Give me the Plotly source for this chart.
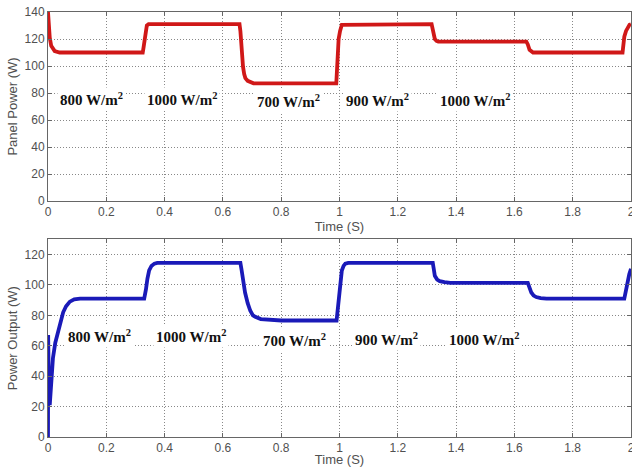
import plotly.graph_objects as go

# ---- data ----
t_panel = [0, 0.003, 0.006, 0.011, 0.023, 0.04, 0.325, 0.328, 0.331, 0.335, 0.339, 0.345,
           0.657, 0.660, 0.662, 0.666, 0.669, 0.673, 0.677, 0.685, 0.694, 0.705,
           0.989, 0.991, 0.994, 0.997, 1.002, 1.008, 1.316, 1.319, 1.322, 1.327, 1.333, 1.339,
           1.641, 1.646, 1.652, 1.658, 1.664, 1.971, 1.974, 1.977, 1.983, 1.989, 1.995, 2.0]
p_panel = [140, 128, 121, 115, 111, 110, 110, 114, 120, 126, 130, 131,
           131, 126, 117, 107, 99.5, 94, 91, 89, 88, 87.2,
           87.2, 100, 112, 120, 126, 130.5, 131, 127, 124, 120, 118.5, 118,
           118, 116, 112, 110.5, 110, 110, 115, 121.7, 126, 129, 130.5, 131]

t_out = [0, 0.0005, 0.002, 0.006, 0.011, 0.017, 0.025, 0.035, 0.045, 0.052, 0.062, 0.075, 0.09, 0.11,
         0.33, 0.333, 0.336, 0.341, 0.347, 0.355, 0.365, 0.375,
         0.66, 0.664, 0.668, 0.676, 0.685, 0.694, 0.703, 0.711, 0.73, 0.757, 0.8,
         0.99, 0.993, 0.997, 1.0, 1.004, 1.008, 1.014, 1.02, 1.03,
         1.32, 1.323, 1.327, 1.335, 1.344, 1.36, 1.38,
         1.646, 1.65, 1.654, 1.658, 1.666, 1.675, 1.69, 1.71,
         1.977, 1.983, 1.989, 1.994, 2.0]
p_out = [0, 67, 45, 21, 35, 52, 62, 70, 77, 82, 86, 89, 90.5, 91,
         91, 93, 97, 104, 109.5, 112.5, 114, 114.5,
         114.5, 110, 104, 95, 88, 83, 80, 79, 77.5, 77, 76.6,
         76.6, 82, 92, 98, 104, 109.5, 112.5, 114, 114.5,
         114.5, 111, 106, 103.5, 102.5, 101.8, 101.4,
         101.4, 99.5, 96.5, 95, 93, 92, 91.3, 91,
         91, 97, 103, 107, 110.6]

irr_labels = ["800 W/m<sup>2</sup>", "1000 W/m<sup>2</sup>", "700 W/m<sup>2</sup>",
              "900 W/m<sup>2</sup>", "1000 W/m<sup>2</sup>"]
lab_t_top = [0.150, 0.461, 0.826, 1.130, 1.465]
lab_y_top = [75.6, 75.6, 74.0, 74.8, 74.8]
lab_t_bot = [0.177, 0.490, 0.847, 1.162, 1.495]
lab_y_bot = [66.2, 66.2, 63.5, 64.2, 64.2]

x_ticks = [0, 0.2, 0.4, 0.6, 0.8, 1, 1.2, 1.4, 1.6, 1.8, 2]
x_tick_text = ["0", "0.2", "0.4", "0.6", "0.8", "1", "1.2", "1.4", "1.6", "1.8", "2"]

fig = go.Figure()
fig.add_trace(go.Scatter(x=t_panel, y=p_panel, mode="lines",
                         line=dict(color="#D01818", width=3.8), xaxis="x", yaxis="y",
                         showlegend=False))
fig.add_trace(go.Scatter(x=t_out, y=p_out, mode="lines",
                         line=dict(color="#1A1AB8", width=3.8), xaxis="x2", yaxis="y2",
                         showlegend=False))

tickfont = dict(family="Liberation Sans, Arial, sans-serif", size=12, color="#505050")
axis_common = dict(showline=True, linecolor="#666", linewidth=1, mirror="ticks",
                   ticks="inside", ticklen=4, tickcolor="#666",
                   showgrid=True, gridcolor="#888", griddash="1px,2px", gridwidth=1,
                   zeroline=False, tickfont=tickfont, ticklabeloverflow="allow",
                   automargin=False)
title_font = dict(family="Liberation Sans, Arial", size=13, color="#505050")

fig.update_layout(
    width=632, height=467,
    margin=dict(l=48, r=1, t=12, b=30),
    paper_bgcolor="white", plot_bgcolor="white",
    xaxis=dict(domain=[0, 1], anchor="y", range=[0, 2], tickvals=x_ticks, ticktext=x_tick_text,
               title=dict(text="Time (S)", standoff=1, font=title_font),
               **axis_common),
    yaxis=dict(domain=[0.5553, 1], anchor="x", range=[0, 140], tickvals=list(range(0, 141, 20)),
               title=dict(text="Panel Power (W)", standoff=4, font=title_font),
               **axis_common),
    xaxis2=dict(domain=[0, 1], anchor="y2", range=[0, 2], tickvals=x_ticks, ticktext=x_tick_text,
                title=dict(text="Time (S)", standoff=1, font=title_font),
                **axis_common),
    yaxis2=dict(domain=[0, 0.4652], anchor="x2", range=[0, 130], tickvals=list(range(0, 121, 20)),
                title=dict(text="Power Output (W)", standoff=4, font=title_font),
                **axis_common),
)

lab_font = dict(family="Liberation Serif, Times New Roman, serif", size=15, color="#111")
for txt, tx, ty in zip(irr_labels, lab_t_top, lab_y_top):
    fig.add_annotation(x=tx, y=ty, xref="x", yref="y", text="<b>" + txt + "</b>",
                       showarrow=False, font=lab_font, bgcolor="white", borderpad=2)
for txt, tx, ty in zip(irr_labels, lab_t_bot, lab_y_bot):
    fig.add_annotation(x=tx, y=ty, xref="x2", yref="y2", text="<b>" + txt + "</b>",
                       showarrow=False, font=lab_font, bgcolor="white", borderpad=2)

fig.write_html("out.html")
